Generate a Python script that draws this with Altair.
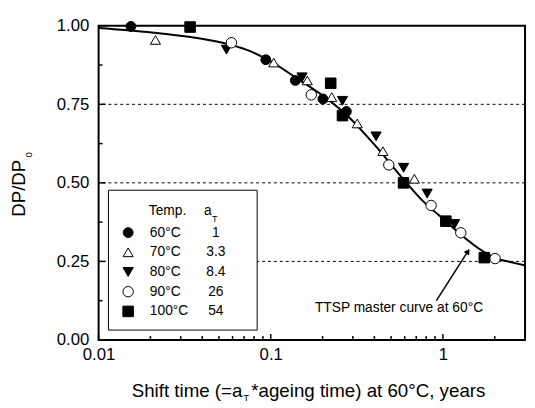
import altair as alt
import pandas as pd

# ---------------- data ----------------
temps = ["60°C", "70°C", "80°C", "90°C", "100°C"]
a_T = ["1", "3.3", "8.4", "26", "54"]

t60_x = [0.0154, 0.0936, 0.139, 0.201, 0.275]
t60_y = [0.998, 0.892, 0.826, 0.767, 0.727]
t70_x = [0.0214, 0.104, 0.163, 0.226, 0.318, 0.448, 0.683]
t70_y = [0.955, 0.883, 0.826, 0.773, 0.689, 0.601, 0.513]
t80_x = [0.0553, 0.152, 0.261, 0.409, 0.591, 0.81, 1.17]
t80_y = [0.924, 0.836, 0.761, 0.648, 0.548, 0.466, 0.369]
t90_x = [0.0591, 0.172, 0.485, 0.854, 1.27, 2.01]
t90_y = [0.946, 0.780, 0.557, 0.428, 0.341, 0.259]
t100_x = [0.034, 0.223, 0.261, 0.591, 1.04, 1.74]
t100_y = [0.996, 0.817, 0.714, 0.500, 0.378, 0.262]

curve_x = [0.01, 0.0193, 0.0373, 0.0553, 0.072, 0.0961, 0.139, 0.206, 0.275,
           0.398, 0.599, 0.769, 1.04, 1.30, 1.69, 2.06, 2.51, 3.0]
curve_y = [0.993, 0.980, 0.961, 0.943, 0.924, 0.892, 0.836, 0.773, 0.717,
           0.623, 0.507, 0.441, 0.378, 0.331, 0.284, 0.259, 0.247, 0.237]

grid_levels = [0.25, 0.5, 0.75]
x_major = [0.01, 0.1, 1]
x_minor = [0.02, 0.03, 0.04, 0.05, 0.06, 0.07, 0.08, 0.09,
           0.2, 0.3, 0.4, 0.5, 0.6, 0.7, 0.8, 0.9, 2]
y_major = [0.0, 0.25, 0.5, 0.75, 1.0]
y_minor = [0.125, 0.375, 0.625, 0.875]

# ---------------- styles ----------------
FONT = "Liberation Sans"
W, H = 433, 319
shapes = ["circle", "triangle-up", "triangle-down", "circle", "square"]
fills = ["black", "white", "black", "white", "black"]
sizes = [100, 115, 115, 100, 85]
leg_sizes = [60, 60, 60, 60, 55]

series = [(temps[0], t60_x, t60_y), (temps[1], t70_x, t70_y), (temps[2], t80_x, t80_y),
          (temps[3], t90_x, t90_y), (temps[4], t100_x, t100_y)]
rows = []
for t, xs, ys in series:
    for a, b in zip(xs, ys):
        rows.append({"temp": t, "x": a, "y": b})
pts_df = pd.DataFrame(rows)
curve_df = pd.DataFrame({"x": curve_x, "y": curve_y})
grid_df = pd.DataFrame({"y": grid_levels})
one = pd.DataFrame({"k": [0]})
leg_df = pd.DataFrame({"temp": temps, "aT": a_T, "row": list(range(len(temps)))})

xscale = alt.Scale(type="log", domain=[0.01, 3], nice=False)
yscale = alt.Scale(domain=[0, 1], nice=False, zero=False)
xaxis = alt.Axis(values=x_major, format="~g", ticks=False, tickSize=0, domain=False, grid=False,
                 labelFont=FONT, labelFontSize=17, labelColor="black", labelPadding=7,
                 labelFlush=False, labelOverlap=False, title=None)
yaxis = alt.Axis(values=y_major, format=".2f", ticks=False, tickSize=0, domain=False, grid=False,
                 labelFont=FONT, labelFontSize=17, labelColor="black", labelPadding=10,
                 labelFlush=False, labelOverlap=False, title=None)


def X(f):
    return alt.X(f, type="quantitative", scale=xscale, axis=xaxis)


def Y(f):
    return alt.Y(f, type="quantitative", scale=yscale, axis=yaxis)


shape_scale = alt.Scale(domain=temps, range=shapes)
fill_scale = alt.Scale(domain=temps, range=fills)

grid = alt.Chart(grid_df).mark_rule(color="black", strokeWidth=1, strokeDash=[3, 3]).encode(y=Y("y"))

curve = alt.Chart(curve_df).mark_line(color="black", strokeWidth=2, interpolate="monotone").encode(
    x=X("x"), y=Y("y"))

points = alt.Chart(pts_df).mark_point(filled=True, stroke="black", strokeWidth=1, opacity=1).encode(
    x=X("x"), y=Y("y"),
    shape=alt.Shape("temp:N", scale=shape_scale, legend=None),
    fill=alt.Fill("temp:N", scale=fill_scale, legend=None),
    size=alt.Size("temp:N", scale=alt.Scale(domain=temps, range=sizes), legend=None),
)

# axis ticks drawn inward
xmaj = alt.Chart(pd.DataFrame({"v": x_major})).mark_rule(color="black", strokeWidth=1.5).encode(
    x=X("v"), y=alt.value(H), y2=alt.value(H - 6))
xmin = alt.Chart(pd.DataFrame({"v": x_minor})).mark_rule(color="black", strokeWidth=1.5).encode(
    x=X("v"), y=alt.value(H), y2=alt.value(H - 4))
ymaj = alt.Chart(pd.DataFrame({"v": y_major})).mark_rule(color="black", strokeWidth=1.5).encode(
    y=Y("v"), x=alt.value(0), x2=alt.value(7))
ymin = alt.Chart(pd.DataFrame({"v": y_minor})).mark_rule(color="black", strokeWidth=1.5).encode(
    y=Y("v"), x=alt.value(0), x2=alt.value(4))

# legend box
leg_box = alt.Chart(one).mark_rect(fill="white", stroke="black", strokeWidth=1).encode(
    x=alt.value(10), x2=alt.value(161), y=alt.value(167), y2=alt.value(309))
leg_base = alt.Chart(leg_df).transform_calculate(ly="210 + 20 * datum.row")
leg_sym = leg_base.mark_point(filled=True, stroke="black", strokeWidth=1, opacity=1).encode(
    x=alt.value(30), y=alt.Y("ly:Q", scale=None, axis=None),
    shape=alt.Shape("temp:N", scale=shape_scale, legend=None),
    fill=alt.Fill("temp:N", scale=fill_scale, legend=None),
    size=alt.Size("temp:N", scale=alt.Scale(domain=temps, range=leg_sizes), legend=None),
)
leg_temp = leg_base.mark_text(align="left", baseline="middle", font=FONT, fontSize=14, color="black").encode(
    x=alt.value(52), y=alt.Y("ly:Q", scale=None, axis=None), text="temp:N")
leg_aT = leg_base.mark_text(align="center", baseline="middle", font=FONT, fontSize=14, color="black").encode(
    x=alt.value(119), y=alt.Y("ly:Q", scale=None, axis=None), text="aT:N")
leg_h1 = alt.Chart(one).mark_text(text="Temp.", align="center", baseline="middle", font=FONT,
                                  fontSize=14, color="black").encode(x=alt.value(70), y=alt.value(188))
leg_h2 = alt.Chart(one).mark_text(text="a", align="center", baseline="middle", font=FONT,
                                  fontSize=14, color="black").encode(x=alt.value(111), y=alt.value(188))
leg_h3 = alt.Chart(one).mark_text(text="T", align="center", baseline="middle", font=FONT,
                                  fontSize=9, color="black").encode(x=alt.value(118), y=alt.value(196))

# annotation
arrow_line = alt.Chart(one).mark_rule(color="black", strokeWidth=1.5).encode(
    x=alt.value(343), y=alt.value(279), x2=alt.value(375), y2=alt.value(229))
arrow_head = alt.Chart(one).mark_point(shape="triangle-up", filled=True, color="black", size=45,
                                       angle=32, opacity=1).encode(x=alt.value(375), y=alt.value(229))
ann = alt.Chart(one).mark_text(text="TTSP master curve at 60°C", align="center", baseline="middle",
                               font=FONT, fontSize=14, color="black").encode(x=alt.value(305), y=alt.value(287))

# axis titles
xt1 = alt.Chart(one).mark_text(text="Shift time (=a", align="right", baseline="alphabetic", font=FONT,
                               fontSize=19, color="black").encode(x=alt.value(146), y=alt.value(377))
xt2 = alt.Chart(one).mark_text(text="T", align="left", baseline="alphabetic", font=FONT,
                               fontSize=10, color="black").encode(x=alt.value(147), y=alt.value(381))
xt3 = alt.Chart(one).mark_text(text="*ageing time) at 60°C, years", align="left", baseline="alphabetic",
                               font=FONT, fontSize=19, color="black").encode(x=alt.value(155), y=alt.value(377))
yt1 = alt.Chart(one).mark_text(text="DP/DP", angle=270, align="center", baseline="alphabetic", font=FONT,
                               fontSize=19, color="black").encode(x=alt.value(-75), y=alt.value(165))
yt2 = alt.Chart(one).mark_text(text="0", angle=270, align="center", baseline="alphabetic", font=FONT,
                               fontSize=10, color="black").encode(x=alt.value(-68), y=alt.value(131))

chart = alt.layer(
    grid, leg_box, curve, points, xmaj, xmin, ymaj, ymin,
    leg_sym, leg_temp, leg_aT, leg_h1, leg_h2, leg_h3,
    arrow_line, arrow_head, ann, xt1, xt2, xt3, yt1, yt2,
).properties(
    width=W, height=H,
    autosize=alt.AutoSizeParams(type="none"),
    padding={"left": 92, "top": 15, "right": 2, "bottom": 62},
).configure_view(stroke="black", strokeWidth=2)

chart.save("out.html", embed_options={"renderer": "svg", "actions": False})
